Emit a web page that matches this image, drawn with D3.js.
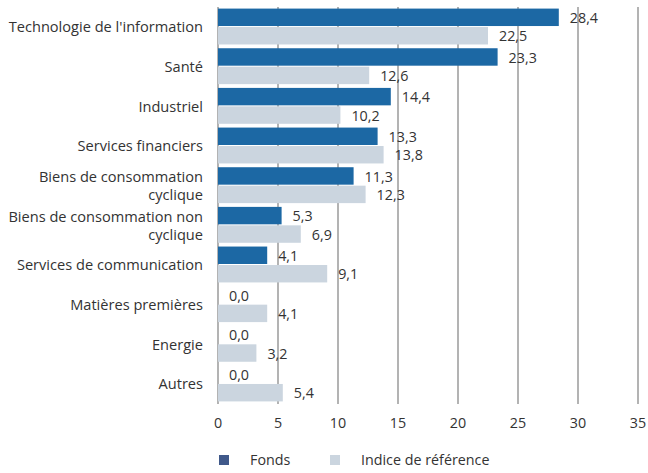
<!DOCTYPE html>
<html>
<head>
<meta charset="utf-8">
<script src="https://cdn.jsdelivr.net/npm/d3@7"></script>
<style>
  body { margin: 0; background: #fff; }
  text { font-family: "Open Sans", sans-serif; fill: #333; }
</style>
</head>
<body>
<div id="chart"></div>
<script>
// chart data
const categories = [
    ["Technologie de l'information"],
    ["Santé"],
    ["Industriel"],
    ["Services financiers"],
    ["Biens de consommation", "cyclique"],
    ["Biens de consommation non", "cyclique"],
    ["Services de communication"],
    ["Matières premières"],
    ["Energie"],
    ["Autres"]
];
const fonds = [28.4, 23.3, 14.4, 13.3, 11.3, 5.3, 4.1, 0.0, 0.0, 0.0];
const indice = [22.5, 12.6, 10.2, 13.8, 12.3, 6.9, 9.1, 4.1, 3.2, 5.4];
const seriesNames = ["Fonds", "Indice de référence"];
const xTicks = [0, 5, 10, 15, 20, 25, 30, 35];

const width = 648, height = 473;
const margin = {top: 7, right: 10, bottom: 69, left: 218};

const svg = d3.select('#chart').append('svg').attr('width', width).attr('height', height);

const x = d3.scaleLinear().domain([0, 35]).range([margin.left, 638]);
const y = d3.scaleBand().domain(d3.range(categories.length))
    .range([margin.top, height - margin.bottom]).paddingInner(0.07).paddingOuter(0.04);
const sub = d3.scaleBand().domain([0, 1]).range([0, y.bandwidth()]);

const colors = ['#1c68a4', '#cbd5df'];
const fmt = d => d.toFixed(1).replace('.', ',');

// gridlines
svg.append('g').selectAll('line')
    .data(xTicks)
    .enter().append('line')
    .attr('x1', d => x(d)).attr('x2', d => x(d))
    .attr('y1', margin.top).attr('y2', height - margin.bottom)
    .attr('stroke', '#9a9a9a')
    .attr('stroke-width', 1.5);

// bars
const rows = categories.map((c, i) => [fonds[i], indice[i]]);
const groups = svg.append('g').selectAll('g')
    .data(rows)
    .enter().append('g')
    .attr('transform', (d, i) => `translate(0,${y(i)})`);

groups.selectAll('rect')
    .data(d => d)
    .enter().append('rect')
    .attr('x', x(0))
    .attr('y', (d, j) => sub(j))
    .attr('width', d => x(d) - x(0))
    .attr('height', sub.bandwidth() - 1)
    .attr('fill', (d, j) => colors[j]);

groups.selectAll('text')
    .data(d => d)
    .enter().append('text')
    .attr('x', d => x(d) + 11)
    .attr('y', (d, j) => sub(j) + sub.bandwidth() / 2)
    .attr('dy', '0.36em')
    .style('font-size', '14.3px')
    .text(d => fmt(d));

// category labels
const labels = svg.append('g').selectAll('text')
    .data(categories)
    .enter().append('text')
    .attr('text-anchor', 'end')
    .attr('x', 203)
    .attr('y', (d, i) => y(i) + y.bandwidth() / 2)
    .style('font-size', '14.6px');

labels.selectAll('tspan')
    .data(d => d)
    .enter().append('tspan')
    .attr('x', 203)
    .attr('dy', function (t, k) {
        const n = d3.select(this.parentNode).datum().length;
        return k === 0 ? (0.36 - (n - 1) * 0.62) + 'em' : '1.24em';
    })
    .text(t => t);

// x axis labels
svg.append('g').selectAll('text')
    .data(xTicks)
    .enter().append('text')
    .attr('x', d => x(d))
    .attr('y', 423)
    .attr('dy', '0.36em')
    .attr('text-anchor', 'middle')
    .style('font-size', '14.3px')
    .text(d => d);

// legend
const legendX = [219, 330];
const legend = svg.append('g').selectAll('g')
    .data(seriesNames)
    .enter().append('g')
    .attr('transform', (d, i) => `translate(${legendX[i]},455)`);

legend.append('rect')
    .attr('width', 10).attr('height', 10)
    .attr('fill', (d, i) => i === 0 ? '#40598a' : colors[1]);

legend.append('text')
    .attr('x', 31)
    .attr('y', 5)
    .attr('dy', '0.36em')
    .style('font-size', '14.3px')
    .text(d => d);
</script>
</body>
</html>
